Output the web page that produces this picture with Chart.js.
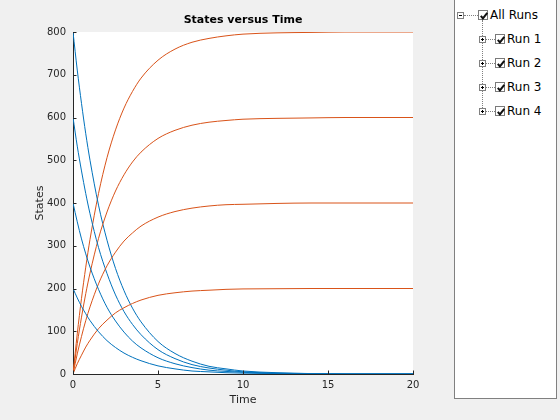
<!DOCTYPE html>
<html>
<head>
<meta charset="utf-8">
<script src="https://cdn.jsdelivr.net/npm/chart.js@4"></script>
<style>
  body { margin: 0; background: #f0f0f0; font-family: "DejaVu Sans", sans-serif; }
  #wrap { position: relative; width: 560px; height: 420px; }
  #panel { position: absolute; left: 454px; top: -2px; width: 103px; height: 401px;
           background: #fff; border: 1px solid #808080; box-sizing: border-box; }
  .exp { position: absolute; width: 5px; height: 5px; border: 1px solid #808080; background: #fff; }
  .exp::before { content: ''; position: absolute; left: 1px; top: 2px; width: 3px; height: 1px; background: #000; }
  .exp.plus::after { content: ''; position: absolute; left: 2px; top: 1px; width: 1px; height: 3px; background: #000; }
  .hdot { position: absolute; height: 0; border-top: 1px dotted #808080; }
  .vdot { position: absolute; width: 0; border-left: 1px dotted #808080; }
  .chk { position: absolute; width: 10px; height: 10px; border: 1px solid #7a7a7a; background: #fff; box-sizing: border-box; }
  .chk svg { position: absolute; left: 0; top: 0; }
  .lbl { position: absolute; font-size: 12px; color: #000; line-height: 14px; white-space: nowrap; }
</style>
</head>
<body>
<div id="wrap">
  <canvas id="chart" width="560" height="420"></canvas>
  <div id="panel"></div>
</div>
<script>
// Time points (s) and run results
const times = [0, 0.25, 0.5, 0.75, 1, 1.5, 2, 2.5, 3, 3.5, 4, 5, 6, 7, 8, 9, 10, 12, 14, 16, 18, 20];

// decaying state, one array per run
const blueRun1 = [200, 178, 158, 141, 125, 99, 78, 62, 49, 39, 31, 19, 12, 7, 5, 3, 2, 1, 0, 0, 0, 0];
const blueRun2 = [400, 356, 316, 281, 250, 198, 156, 124, 98, 77, 61, 38, 24, 15, 9, 6, 4, 1, 0.5, 0, 0, 0];
const blueRun3 = [600, 533, 475, 422, 375, 296, 235, 185, 146, 116, 92, 57, 36, 22, 14, 9, 5, 2, 1, 0, 0, 0];
const blueRun4 = [800, 711, 633, 562, 500, 395, 313, 247, 195, 154, 122, 76, 48, 30, 18, 12, 7, 3, 1, 0, 0, 0];

// rising state, one array per run
const orangeRun1 = [0, 24, 44, 63, 79, 106, 126, 143, 155, 165, 173, 184, 190, 194, 196, 198, 199, 199.5, 200, 200, 200, 200];
const orangeRun2 = [0, 47, 88, 125, 157, 211, 253, 285, 311, 330, 346, 367, 380, 388, 393, 396, 397, 399, 400, 400, 400, 400];
const orangeRun3 = [0, 71, 133, 188, 236, 317, 379, 428, 466, 496, 519, 551, 570, 582, 589, 593, 596, 598, 599, 600, 600, 600];
const orangeRun4 = [0, 94, 177, 250, 315, 422, 506, 571, 622, 661, 692, 734, 760, 776, 785, 791, 795, 798, 799, 800, 800, 800];

const runNames = ['Run 1', 'Run 2', 'Run 3', 'Run 4'];
const chartTitle = 'States versus Time';

const BLUE = '#0072bd';
const ORANGE = '#d95319';
const AXIS = '#262626';

function toPoints(values) {
  return times.map((t, i) => ({ x: t, y: values[i] }));
}

function line(values, color) {
  return {
    data: toPoints(values),
    borderColor: color,
    borderWidth: 1,
    pointRadius: 0,
    cubicInterpolationMode: 'monotone',
    fill: false
  };
}

const blues = [blueRun1, blueRun2, blueRun3, blueRun4];
const oranges = [orangeRun1, orangeRun2, orangeRun3, orangeRun4];
const datasets = [];
blues.forEach((b, i) => {
  datasets.push(line(b, BLUE));
  datasets.push(line(oranges[i], ORANGE));
});

// white plot box, title over the axes, MATLAB style inward ticks
const plotFrame = {
  id: 'plotFrame',
  beforeDraw(chart) {
    const { ctx, chartArea: a } = chart;
    ctx.save();
    ctx.fillStyle = '#fff';
    ctx.fillRect(a.left, a.top, a.right - a.left, a.bottom - a.top);
    ctx.fillStyle = '#000';
    ctx.font = 'bold 11px "DejaVu Sans"';
    ctx.textAlign = 'center';
    ctx.textBaseline = 'middle';
    ctx.fillText(chartTitle, (a.left + a.right) / 2, 20);
    ctx.restore();
  },
  afterDraw(chart) {
    const { ctx, chartArea: a, scales: { x, y } } = chart;
    ctx.save();
    ctx.strokeStyle = AXIS;
    ctx.lineWidth = 1;
    ctx.beginPath();
    x.ticks.forEach(t => {
      const px = Math.round(x.getPixelForValue(t.value)) + 0.5;
      ctx.moveTo(px, a.bottom);
      ctx.lineTo(px, a.bottom - 3.5);
    });
    y.ticks.forEach(t => {
      const py = Math.round(y.getPixelForValue(t.value)) + 0.5;
      ctx.moveTo(a.left, py);
      ctx.lineTo(a.left + 3.5, py);
    });
    ctx.stroke();
    ctx.restore();
  }
};

new Chart(document.getElementById('chart'), {
  type: 'line',
  data: { datasets },
  options: {
    responsive: false,
    animation: false,
    events: [],
    layout: { padding: { left: 0, top: 32, right: 147, bottom: 0 } },
    plugins: {
      legend: { display: false },
      tooltip: { enabled: false },
      title: { display: false }
    },
    scales: {
      x: {
        type: 'linear',
        min: 0,
        max: 20,
        z: 1,
        afterFit(s) { s.height = 46; },
        ticks: { stepSize: 5, color: AXIS, padding: 5, maxRotation: 0,
                 font: { family: 'DejaVu Sans', size: 10 } },
        grid: { drawOnChartArea: false, drawTicks: false },
        border: { color: AXIS, width: 1 },
        title: { display: true, text: 'Time', color: AXIS,
                 font: { family: 'DejaVu Sans', size: 11 }, padding: { top: 0, bottom: 13 } }
      },
      y: {
        min: 0,
        max: 800,
        z: 1,
        afterFit(s) { s.width = 73; },
        ticks: { stepSize: 100, color: AXIS, padding: 7,
                 font: { family: 'DejaVu Sans', size: 10 } },
        grid: { drawOnChartArea: false, drawTicks: false },
        border: { color: AXIS, width: 1 },
        title: { display: true, text: 'States', color: AXIS,
                 font: { family: 'DejaVu Sans', size: 11 }, padding: { top: 34, bottom: 0 } }
      }
    }
  },
  plugins: [plotFrame]
});

// run tree on the right
const panel = document.getElementById('panel');
const ox = 455, oy = -1; // panel content origin in page coords

function add(cls, x, y, w, h, html) {
  const el = document.createElement('div');
  el.className = cls;
  el.style.left = (x - ox) + 'px';
  el.style.top = (y - oy) + 'px';
  if (w != null) el.style.width = w + 'px';
  if (h != null) el.style.height = h + 'px';
  if (html) el.innerHTML = html;
  panel.appendChild(el);
  return el;
}

const tick = '<svg width="10" height="10" viewBox="0 0 10 10"><path d="M1.8 4.8 L3.9 7.4 L8.3 1.8" stroke="#111" stroke-width="2" fill="none"/></svg>';

function row(expX, chkX, cy, label, plus) {
  add('exp' + (plus ? ' plus' : ''), expX - 3, cy - 3);
  add('hdot', expX + 4, cy, chkX - expX - 4);
  add('chk', chkX, cy - 5, null, null, tick);
  const t = add('lbl', chkX + 12, cy - 7);
  t.textContent = label;
}

row(460, 478, 14.5, 'All Runs', false);
add('vdot', 482, 20, null, 88);
runNames.forEach((name, i) => row(482, 495, 38.5 + i * 24, name, true));
</script>
</body>
</html>
